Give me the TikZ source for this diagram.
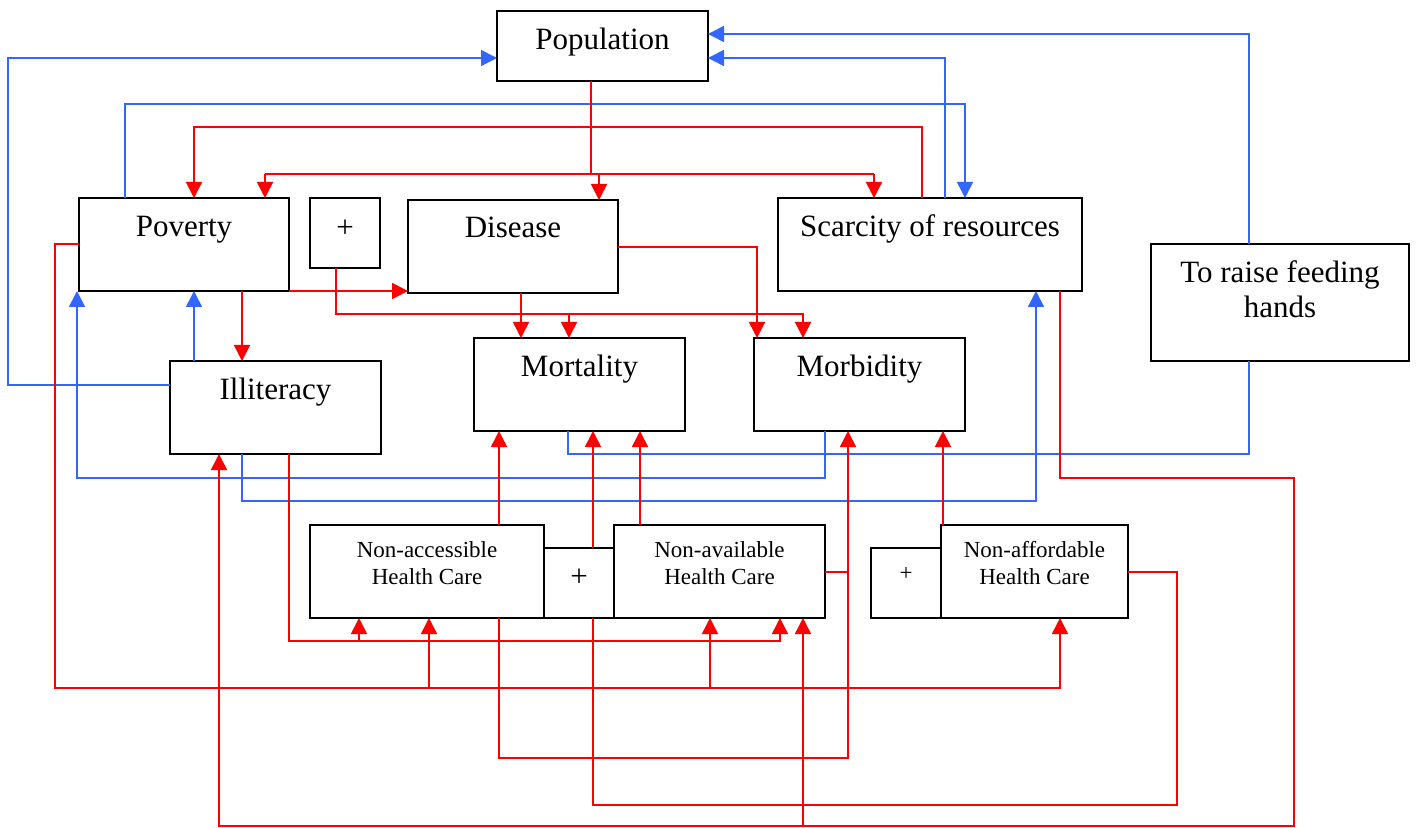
\documentclass[tikz,border=0pt]{standalone}
\usepackage{fontspec}
\setmainfont{Liberation Serif}
\usetikzlibrary{arrows.meta}
\definecolor{linkred}{RGB}{255,0,0}
\definecolor{linkblue}{RGB}{51,102,255}
\begin{document}
\begin{tikzpicture}[x=0.5pt,y=-0.5pt,
  box/.style={draw=black,line width=1pt,rectangle,inner sep=0pt,outer sep=0pt},
  lbl/.style={anchor=base,inner sep=0pt,font=\fontsize{15.5}{18}\selectfont},
  sml/.style={anchor=base,inner sep=0pt,font=\fontsize{11.5}{13}\selectfont},
  rd/.style={draw=linkred,line width=0.8pt},
  bl/.style={draw=linkblue,line width=0.8pt},
  tip/.style={-{Triangle[length=8pt,width=8pt]}},
]
\useasboundingbox (0,0) rectangle (1418,828);

% ---- boxes ----
\node[box,minimum width=105.5pt,minimum height=35pt]   (pop)   at (602.5,46)  {};
\node[box,minimum width=105pt,minimum height=46.5pt]   (pov)   at (184,244.5) {};
\node[box,minimum width=35pt,minimum height=35pt]      (plusA) at (345,233)   {};
\node[box,minimum width=105pt,minimum height=46.5pt]   (dis)   at (513,246.5) {};
\node[box,minimum width=152pt,minimum height=46.5pt]   (scar)  at (930,244.5) {};
\node[box,minimum width=129pt,minimum height=58.5pt]   (hands) at (1280,302.5){};
\node[box,minimum width=105.5pt,minimum height=46.5pt] (ill)   at (275.5,407.5){};
\node[box,minimum width=105.5pt,minimum height=46.5pt] (mort)  at (579.5,384.5){};
\node[box,minimum width=105.5pt,minimum height=46.5pt] (morb)  at (859.5,384.5){};
\node[box,minimum width=117pt,minimum height=46.5pt]   (nacc)  at (427,571.5) {};
\node[box,minimum width=35pt,minimum height=35pt]      (plusB) at (579,583)   {};
\node[box,minimum width=105.5pt,minimum height=46.5pt] (navl)  at (719.5,571.5){};
\node[box,minimum width=35pt,minimum height=35pt]      (plusC) at (906,583)   {};
\node[box,minimum width=93.5pt,minimum height=46.5pt]  (naff)  at (1034.5,571.5){};

% ---- labels ----
\node[lbl] (tpop)   at (602.5,50)  {Population};
\node[lbl] (tpov)   at (184,237)   {Poverty};
\node[lbl] (tplusA) at (345,238)   {+};
\node[lbl] (tdis)   at (513,238)   {Disease};
\node[lbl] (tscar)  at (930,237)   {Scarcity of resources};
\node[lbl] (thand1) at (1280,283)  {To raise feeding};
\node[lbl] (thand2) at (1280,318)  {hands};
\node[lbl] (till)   at (275.5,400) {Illiteracy};
\node[lbl] (tmort)  at (579.5,377) {Mortality};
\node[lbl] (tmorb)  at (859.5,377) {Morbidity};
\node[sml] (tnacc1) at (427,557)   {Non-accessible};
\node[sml] (tnacc2) at (427,584)   {Health Care};
\node[lbl] (tplusB) at (579,586)   {+};
\node[sml] (tnavl1) at (719.5,557) {Non-available};
\node[sml] (tnavl2) at (719.5,584) {Health Care};
\node[sml] (tplusC) at (906,580)   {+};
\node[sml] (tnaff1) at (1034.5,557){Non-affordable};
\node[sml] (tnaff2) at (1034.5,584){Health Care};

% ---- blue links ----
\draw[bl,tip] (ill.west |- 0,385) -- (8,385) -- (8,58) -- (pop.west |- 0,58);
\draw[bl,tip] (125,0 |- pov.north) -- (125,104) -- (965,104) -- (965,0 |- scar.north);
\draw[bl,tip] (945,0 |- scar.north) -- (945,58) -- (pop.east |- 0,58);
\draw[bl,tip] (1249,0 |- hands.north) -- (1249,34) -- (pop.east |- 0,34);
\draw[bl,tip] (194,0 |- ill.north) -- (194,0 |- pov.south);
\draw[bl,tip] (825,0 |- morb.south) -- (825,478) -- (77,478) -- (77,0 |- pov.south);
\draw[bl,tip] (242,0 |- ill.south) -- (242,501) -- (1036,501) -- (1036,0 |- scar.south);
\draw[bl] (568,0 |- mort.south) -- (568,454) -- (1249,454) -- (1249,0 |- hands.south);

% ---- red links ----
\draw[rd,tip] (922,0 |- scar.north) -- (922,127) -- (194,127) -- (194,0 |- pov.north);
\draw[rd] (591,0 |- pop.south) -- (591,174);
\draw[rd] (265,174) -- (874,174);
\draw[rd,tip] (265,174) -- (265,0 |- pov.north);
\draw[rd,tip] (599,174) -- (599,0 |- dis.north);
\draw[rd,tip] (874,174) -- (874,0 |- scar.north);
\draw[rd,tip] (pov.south east) -- (dis.west |- 0,291);
\draw[rd,tip] (242,0 |- pov.south) -- (242,0 |- ill.north);
\draw[rd,tip] (pov.west |- 0,244) -- (55,244) -- (55,688) -- (1060,688) -- (1060,0 |- naff.south);
\draw[rd,tip] (429,688) -- (429,0 |- nacc.south);
\draw[rd,tip] (710,688) -- (710,0 |- navl.south);
\draw[rd,tip] (336,0 |- plusA.south) -- (336,314) -- (803,314) -- (803,0 |- morb.north);
\draw[rd,tip] (569,314) -- (569,0 |- mort.north);
\draw[rd,tip] (521,0 |- dis.south) -- (521,0 |- mort.north);
\draw[rd,tip] (dis.east |- 0,247) -- (757,247) -- (757,0 |- morb.north);
\draw[rd,tip] (289,0 |- ill.south) -- (289,641) -- (780,641) -- (780,0 |- navl.south);
\draw[rd,tip] (359,641) -- (359,0 |- nacc.south);
\draw[rd,tip] (1060,0 |- scar.south) -- (1060,478) -- (1294,478) -- (1294,826) -- (219,826) -- (219,0 |- ill.south);
\draw[rd,tip] (803,826) -- (803,0 |- navl.south);
\draw[rd,tip] (499,0 |- nacc.north) -- (499,0 |- mort.south);
\draw[rd,tip] (593,0 |- plusB.north) -- (593,0 |- mort.south);
\draw[rd,tip] (640,0 |- navl.north) -- (640,0 |- mort.south);
\draw[rd] (navl.east |- 0,572) -- (848,572);
\draw[rd,tip] (499,0 |- nacc.south) -- (499,758) -- (848,758) -- (848,0 |- morb.south);
\draw[rd,tip] (943,0 |- naff.north) -- (943,0 |- morb.south);
\draw[rd] (naff.east |- 0,572) -- (1177,572) -- (1177,805) -- (593,805) -- (593,0 |- plusB.south);
\end{tikzpicture}
\end{document}
